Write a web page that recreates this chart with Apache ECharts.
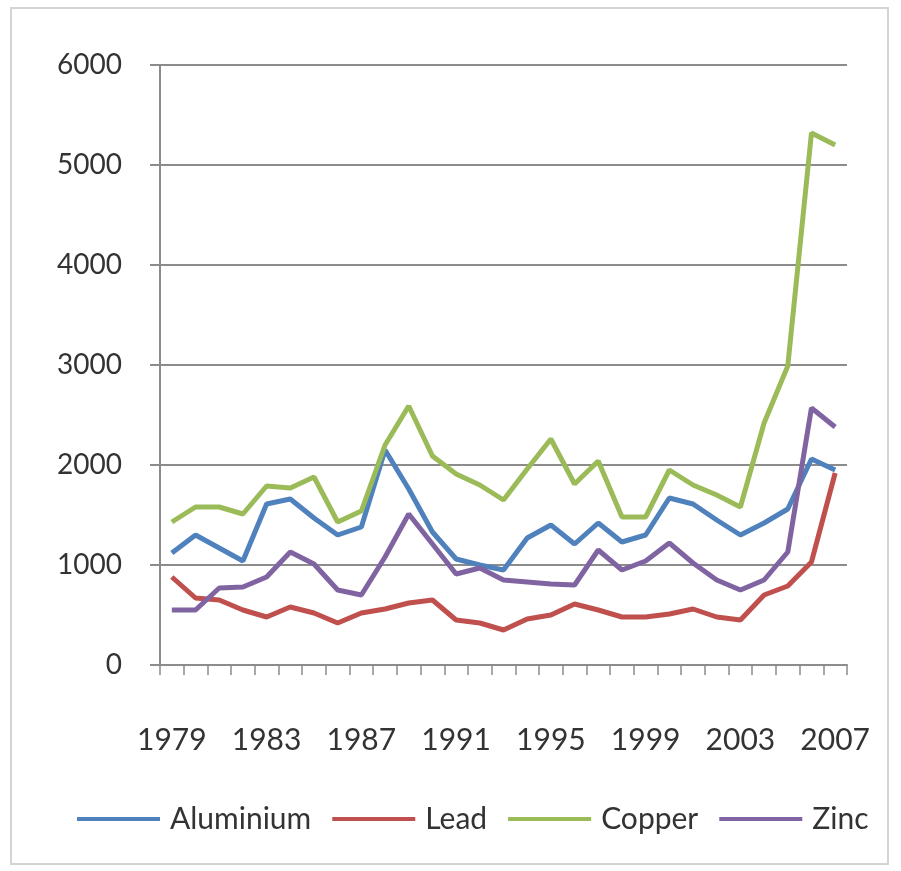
<!DOCTYPE html>
<html>
<head>
<meta charset="utf-8">
<script src="https://cdn.jsdelivr.net/npm/echarts@6/dist/echarts.min.js"></script>
<style>
  html, body { margin: 0; padding: 0; background: #ffffff; }
  #chart { width: 901px; height: 871px; }
</style>
</head>
<body>
<div id="chart"></div>
<script>
// Metal prices by year, 1979-2007
const years = ['1979','1980','1981','1982','1983','1984','1985','1986','1987','1988',
               '1989','1990','1991','1992','1993','1994','1995','1996','1997','1998',
               '1999','2000','2001','2002','2003','2004','2005','2006','2007'];

const aluminium = [1120,1300,1170,1040,1610,1660,1470,1300,1380,2150,
                   1760,1330,1060,1000,950,1270,1400,1210,1420,1230,
                   1300,1670,1610,1450,1300,1420,1560,2060,1950];

const lead = [880,670,650,550,480,580,520,420,520,560,
              620,650,450,420,350,460,500,610,550,480,
              480,510,560,480,450,700,790,1030,1920];

const copper = [1430,1580,1580,1510,1790,1770,1880,1430,1540,2200,
                2590,2090,1910,1800,1650,1960,2260,1810,2040,1480,
                1480,1950,1800,1700,1580,2420,2990,5320,5200];

const zinc = [550,550,770,780,880,1130,1010,750,700,1080,
              1510,1210,910,970,850,830,810,800,1150,950,
              1040,1220,1020,850,750,850,1130,2570,2380];

const yTicks = [0, 1000, 2000, 3000, 4000, 5000, 6000];

const seriesNames = ['Aluminium', 'Lead', 'Copper', 'Zinc'];
const seriesData = [aluminium, lead, copper, zinc];
const seriesColors = ['#4f81bd', '#c0504d', '#9bbb59', '#8064a2'];

const fontFamily = 'Lato, "Open Sans", sans-serif';
const textColor = '#333333';
const gridColor = '#8c8c8c';

const chart = echarts.init(document.getElementById('chart'), null, { renderer: 'canvas' });

chart.setOption({
  animation: false,
  backgroundColor: '#ffffff',
  graphic: [{
    type: 'rect',
    shape: { x: 11, y: 8, width: 877, height: 856 },
    style: { fill: 'none', stroke: '#d4d4d4', lineWidth: 2 },
    silent: true
  }],
  grid: { left: 160, right: 54, top: 65, bottom: 206, containLabel: false },
  legend: {
    data: seriesNames,
    icon: 'rect',
    left: 72,
    top: 797,
    itemWidth: 83,
    itemHeight: 4,
    itemGap: 21,
    textStyle: {
      fontFamily: fontFamily,
      fontSize: 30,
      lineHeight: 34,
      color: textColor,
      padding: [0, 0, 0, 5]
    }
  },
  xAxis: {
    type: 'category',
    data: years,
    boundaryGap: true,
    axisLine: { show: true, lineStyle: { color: gridColor, width: 2 } },
    axisTick: { show: true, interval: 0, length: 10, lineStyle: { color: gridColor, width: 1.5 } },
    axisLabel: {
      interval: 3,
      margin: 60,
      fontFamily: fontFamily,
      fontSize: 30,
      color: textColor
    },
    splitLine: { show: false }
  },
  yAxis: {
    type: 'value',
    min: yTicks[0],
    max: yTicks[yTicks.length - 1],
    interval: 1000,
    axisLine: { show: true, lineStyle: { color: gridColor, width: 2 } },
    axisTick: { show: true, length: 10, lineStyle: { color: gridColor, width: 2 } },
    axisLabel: {
      margin: 38,
      fontFamily: fontFamily,
      fontSize: 28,
      color: textColor,
      formatter: (v) => String(v)
    },
    splitLine: { show: true, lineStyle: { color: gridColor, width: 2 } }
  },
  series: seriesNames.map((name, i) => ({
    name: name,
    type: 'line',
    data: seriesData[i],
    symbol: 'none',
    smooth: false,
    color: seriesColors[i],
    lineStyle: { width: 5, color: seriesColors[i] },
    itemStyle: { color: seriesColors[i] }
  }))
});
</script>
</body>
</html>
